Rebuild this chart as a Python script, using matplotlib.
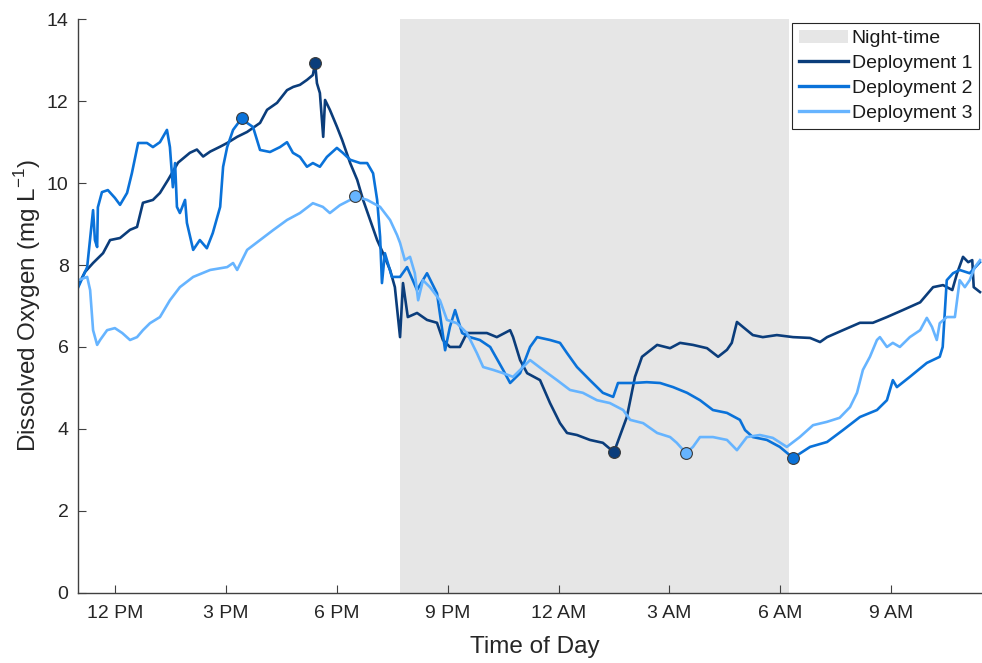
import numpy as np
import matplotlib
matplotlib.use("Agg")
import matplotlib.pyplot as plt

plt.rcParams['font.family'] = ['Liberation Sans', 'DejaVu Sans']
plt.rcParams['mathtext.fontset'] = 'custom'
plt.rcParams['mathtext.rm'] = 'Liberation Sans'

# Time in decimal hours from midnight of the first day (24+ = next morning)
t1 = [11.00, 11.18, 11.40, 11.67, 11.86, 12.13, 12.40, 12.59, 12.75, 13.02, 13.21, 13.43,
      13.70, 14.02, 14.21, 14.38, 14.57, 14.84, 15.03, 15.30, 15.57, 15.73, 15.92, 16.11,
      16.38, 16.65, 16.82, 17.00, 17.19, 17.35, 17.41, 17.46, 17.54, 17.63, 17.68, 17.81,
      18.00, 18.14, 18.36, 18.55, 18.71, 18.90, 19.09, 19.25, 19.44, 19.57, 19.71, 19.79,
      19.92, 20.17, 20.44, 20.71, 20.87, 21.06, 21.33, 21.52, 21.79, 22.06, 22.33, 22.69,
      22.77, 22.96, 23.15, 23.50, 23.77, 24.04, 24.23, 24.50, 24.85, 25.20, 25.50, 25.85,
      26.07, 26.26, 26.67, 27.02, 27.29, 27.64, 28.02, 28.32, 28.56, 28.69, 28.83, 28.99,
      29.26, 29.53, 29.91, 30.35, 30.81, 31.08, 31.27, 31.70, 32.16, 32.51, 32.89, 33.32,
      33.79, 34.14, 34.41, 34.66, 34.79, 34.95, 35.09, 35.20, 35.24, 35.41]
do1 = [7.51, 7.83, 8.05, 8.29, 8.61, 8.66, 8.86, 8.93, 9.52, 9.59, 9.76, 10.08,
       10.50, 10.74, 10.82, 10.65, 10.77, 10.89, 10.98, 11.13, 11.25, 11.35, 11.47, 11.79,
       11.96, 12.27, 12.35, 12.40, 12.52, 12.64, 12.93, 12.44, 12.20, 11.13, 12.03, 11.79,
       11.38, 11.06, 10.49, 10.08, 9.59, 9.10, 8.61, 8.29, 7.88, 7.46, 6.24, 7.56,
       6.73, 6.83, 6.66, 6.59, 6.17, 6.00, 6.00, 6.34, 6.34, 6.34, 6.24, 6.41,
       6.24, 5.68, 5.36, 5.19, 4.63, 4.14, 3.90, 3.85, 3.73, 3.66, 3.43, 4.29,
       5.27, 5.76, 6.05, 5.97, 6.10, 6.05, 5.97, 5.76, 5.93, 6.10, 6.61, 6.49,
       6.29, 6.24, 6.29, 6.24, 6.22, 6.12, 6.24, 6.41, 6.59, 6.59, 6.73, 6.90,
       7.09, 7.46, 7.51, 7.39, 7.80, 8.20, 8.07, 8.12, 7.46, 7.34]

t2 = [11.00, 11.24, 11.40, 11.45, 11.51, 11.53, 11.64, 11.80, 11.99, 12.13, 12.32, 12.45,
      12.62, 12.86, 13.02, 13.21, 13.40, 13.48, 13.56, 13.62, 13.67, 13.75, 13.89, 13.94,
      14.11, 14.29, 14.48, 14.64, 14.84, 14.92, 15.03, 15.19, 15.43, 15.57, 15.73, 15.92,
      16.19, 16.46, 16.65, 16.81, 17.00, 17.19, 17.35, 17.54, 17.73, 18.00, 18.16, 18.36,
      18.63, 18.82, 18.98, 19.09, 19.17, 19.22, 19.30, 19.49, 19.71, 19.90, 20.17, 20.44,
      20.71, 20.93, 21.06, 21.20, 21.39, 21.60, 21.87, 22.15, 22.50, 22.69, 22.96, 23.23,
      23.42, 23.77, 24.04, 24.23, 24.50, 24.85, 25.20, 25.48, 25.61, 26.02, 26.39, 26.75,
      27.10, 27.48, 27.83, 28.18, 28.56, 28.91, 29.05, 29.26, 29.64, 29.99, 30.35, 30.81,
      31.27, 31.70, 32.16, 32.62, 32.89, 33.05, 33.16, 33.51, 33.97, 34.32, 34.40, 34.51,
      34.68, 34.86, 35.13, 35.41]
do2 = [7.46, 7.95, 9.34, 8.61, 8.44, 9.41, 9.78, 9.83, 9.64, 9.47, 9.76, 10.24,
       10.98, 10.98, 10.88, 11.00, 11.30, 10.88, 9.90, 10.49, 9.42, 9.27, 9.59, 9.03,
       8.37, 8.61, 8.41, 8.78, 9.42, 10.40, 10.88, 11.30, 11.59, 11.47, 11.37, 10.81,
       10.76, 10.88, 11.00, 10.74, 10.64, 10.40, 10.49, 10.40, 10.64, 10.86, 10.74, 10.57,
       10.49, 10.49, 10.24, 9.59, 8.69, 7.56, 8.29, 7.71, 7.71, 7.95, 7.39, 7.80,
       7.31, 5.92, 6.49, 6.90, 6.34, 6.24, 6.17, 6.00, 5.44, 5.12, 5.36, 6.00,
       6.24, 6.17, 6.10, 5.85, 5.51, 5.19, 4.88, 4.78, 5.12, 5.12, 5.14, 5.12,
       5.02, 4.88, 4.70, 4.46, 4.39, 4.22, 3.97, 3.80, 3.73, 3.56, 3.29, 3.56,
       3.68, 3.97, 4.29, 4.46, 4.70, 5.19, 5.02, 5.27, 5.61, 5.76, 6.00, 7.63,
       7.80, 7.88, 7.80, 8.07]

t3 = [11.00, 11.24, 11.32, 11.40, 11.51, 11.59, 11.78, 11.99, 12.19, 12.40, 12.59, 12.75,
      12.94, 13.21, 13.48, 13.75, 14.11, 14.57, 15.03, 15.19, 15.30, 15.57, 15.92, 16.27,
      16.65, 17.00, 17.35, 17.62, 17.81, 18.08, 18.36, 18.49, 18.82, 19.17, 19.44, 19.63,
      19.71, 19.84, 19.98, 20.11, 20.20, 20.33, 20.52, 20.79, 20.98, 21.25, 21.52, 21.79,
      21.96, 22.23, 22.50, 22.77, 23.04, 23.23, 23.58, 23.96, 24.31, 24.66, 25.04, 25.39,
      25.75, 25.94, 26.29, 26.67, 27.02, 27.20, 27.45, 27.64, 27.83, 28.18, 28.56, 28.83,
      29.10, 29.45, 29.80, 30.18, 30.53, 30.89, 31.26, 31.61, 31.89, 32.08, 32.24, 32.43,
      32.62, 32.70, 32.89, 33.05, 33.24, 33.51, 33.79, 33.97, 34.11, 34.24, 34.32, 34.51,
      34.73, 34.86, 35.00, 35.13, 35.27, 35.41]
do3 = [7.63, 7.71, 7.39, 6.41, 6.05, 6.17, 6.41, 6.46, 6.34, 6.17, 6.24, 6.41,
       6.58, 6.73, 7.14, 7.46, 7.71, 7.88, 7.95, 8.05, 7.88, 8.37, 8.61, 8.85,
       9.10, 9.27, 9.51, 9.42, 9.27, 9.46, 9.59, 9.68, 9.59, 9.42, 9.10, 8.73,
       8.54, 8.12, 8.20, 7.80, 7.14, 7.63, 7.46, 7.14, 6.66, 6.58, 6.34, 5.85,
       5.51, 5.44, 5.36, 5.27, 5.51, 5.68, 5.44, 5.19, 4.95, 4.88, 4.70, 4.63,
       4.46, 4.22, 4.14, 3.90, 3.80, 3.66, 3.41, 3.56, 3.80, 3.80, 3.73, 3.48,
       3.80, 3.85, 3.78, 3.56, 3.80, 4.09, 4.17, 4.27, 4.53, 4.88, 5.44, 5.76,
       6.17, 6.24, 6.00, 6.10, 6.00, 6.24, 6.41, 6.71, 6.49, 6.17, 6.58, 6.73,
       6.73, 7.63, 7.46, 7.63, 7.95, 8.12]

night_start, night_end = 19.70, 30.23
tick_hours = [12, 15, 18, 21, 24, 27, 30, 33]
tick_labels = ['12 PM', '3 PM', '6 PM', '9 PM', '12 AM', '3 AM', '6 AM', '9 AM']
series_names = ['Deployment 1', 'Deployment 2', 'Deployment 3']
series_colors = ['#0B3D7B', '#0A72D9', '#66B4FF']

W, H = 982, 663
fig = plt.figure(figsize=(W / 100, H / 100), dpi=100)
x0, x1, y0, y1 = 78.3, 992.0, 592.7, 19.3
ax = fig.add_axes([x0 / W, 1 - y0 / H, (x1 - x0) / W, (y0 - y1) / H])

ax.axvspan(night_start, night_end, color='#E6E6E6', lw=0, label='Night-time', zorder=0)

series = [(t1, do1), (t2, do2), (t3, do3)]
for (t, d), name, c in zip(series, series_names, series_colors):
    ax.plot(t, d, color=c, lw=1.9, label=name, zorder=2)

for (t, d), c in zip(series, series_colors):
    d = np.asarray(d)
    t = np.asarray(t)
    for i in (np.argmax(d), np.argmin(d)):
        ax.plot(t[i], d[i], 'o', ms=8.5, mfc=c, mec='#3A3A3A', mew=0.8, zorder=4)

ax.set_xlim(11, 11 + (x1 - x0) / 36.94)
ax.set_ylim(0, 14)
ax.set_xticks(tick_hours)
ax.set_xticklabels(tick_labels)
ax.set_yticks(range(0, 15, 2))

for s in ('top', 'right'):
    ax.spines[s].set_visible(False)
for s in ('left', 'bottom'):
    ax.spines[s].set_color('#404040')
    ax.spines[s].set_linewidth(1.0)
ax.tick_params(direction='in', length=6, width=0.8, color='#404040',
               labelsize=14, labelcolor='#262626')
ax.tick_params(axis='y', pad=7)
ax.tick_params(axis='x', pad=9)

ax.set_xlabel('Time of Day', fontsize=17.5, color='#262626', labelpad=10)
ax.set_ylabel('Dissolved Oxygen (mg L$^{\\mathregular{-1}}$)', fontsize=17.5,
              color='#262626', labelpad=3)

leg = ax.legend(loc='upper right', bbox_to_anchor=(979 / W, 1 - 23 / H),
                bbox_transform=fig.transFigure, borderaxespad=0,
                fontsize=14, frameon=True, fancybox=False, framealpha=1,
                edgecolor='#262626', handlelength=2.5, handletextpad=0.2,
                labelspacing=0.37, borderpad=0.35)
leg.get_frame().set_linewidth(0.8)
for line in leg.get_lines():
    line.set_linewidth(2.4)
for txt in leg.get_texts():
    txt.set_color('#1a1a1a')

fig.savefig('out.png', dpi=100)
